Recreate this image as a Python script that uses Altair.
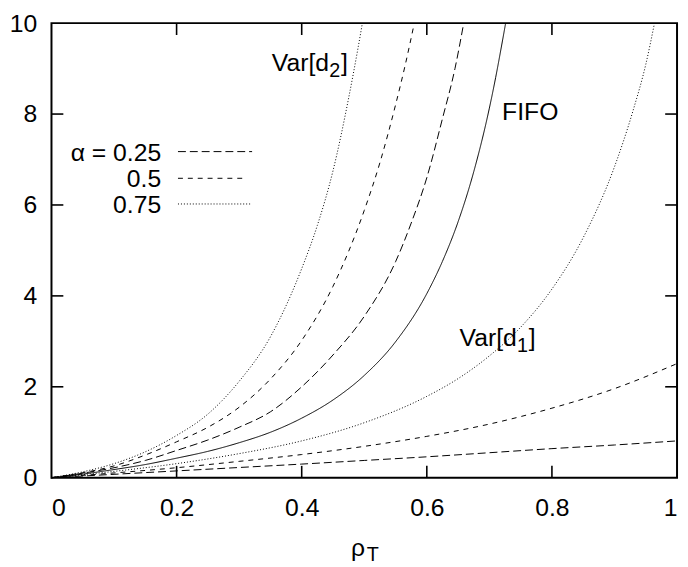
import altair as alt
import pandas as pd

FONT = "Liberation Sans"

# ---- data ----
rho_fifo = [0, 0.05, 0.1, 0.15, 0.2, 0.25, 0.3, 0.35, 0.4, 0.45, 0.5, 0.55, 0.6, 0.625, 0.65, 0.675, 0.7, 0.71, 0.72, 0.726]
v_fifo = [0, 0.08, 0.18, 0.29, 0.43, 0.58, 0.77, 1.00, 1.31, 1.71, 2.25, 2.99, 4.05, 4.76, 5.63, 6.73, 8.13, 8.80, 9.54, 10.0]

rho_d2_075 = [0, 0.05, 0.1, 0.15, 0.2, 0.25, 0.3, 0.35, 0.4, 0.425, 0.45, 0.475, 0.49, 0.497]
v_d2_075 = [0, 0.13, 0.31, 0.57, 0.93, 1.40, 2.12, 3.10, 4.60, 5.55, 6.75, 8.35, 9.45, 10.0]

rho_d2_050 = [0, 0.05, 0.1, 0.15, 0.2, 0.25, 0.3, 0.35, 0.4, 0.45, 0.5, 0.525, 0.55, 0.565, 0.58]
v_d2_050 = [0, 0.11, 0.26, 0.50, 0.79, 1.11, 1.55, 2.17, 3.02, 4.21, 5.88, 6.93, 8.20, 9.05, 10.0]

rho_d2_025 = [0, 0.05, 0.1, 0.15, 0.2, 0.25, 0.3, 0.35, 0.4, 0.45, 0.5, 0.55, 0.575, 0.6, 0.625, 0.645, 0.659]
v_d2_025 = [0, 0.10, 0.22, 0.38, 0.60, 0.83, 1.11, 1.45, 2.00, 2.70, 3.55, 4.75, 5.60, 6.60, 7.90, 9.00, 10.0]

rho_d1_075 = [0, 0.1, 0.2, 0.3, 0.4, 0.5, 0.6, 0.65, 0.7, 0.75, 0.8, 0.85, 0.9, 0.93, 0.95, 0.964]
v_d1_075 = [0, 0.14, 0.31, 0.53, 0.81, 1.21, 1.79, 2.18, 2.68, 3.31, 4.15, 5.28, 6.84, 8.09, 9.09, 10.0]

rho_d1 = [0, 0.1, 0.2, 0.3, 0.4, 0.5, 0.6, 0.7, 0.8, 0.9, 1.0]
v_d1_050 = [0, 0.105, 0.22, 0.36, 0.51, 0.69, 0.91, 1.18, 1.53, 1.96, 2.51]
v_d1_025 = [0, 0.075, 0.15, 0.225, 0.30, 0.38, 0.46, 0.55, 0.64, 0.72, 0.81]

x_ticks = [0, 0.2, 0.4, 0.6, 0.8, 1]
y_ticks = [0, 2, 4, 6, 8, 10]
inner_x_ticks = [0.2, 0.4, 0.6, 0.8]
inner_y_ticks = [2, 4, 6, 8]

series = [
    ("FIFO", "solid", rho_fifo, v_fifo),
    ("d2 0.75", "dot", rho_d2_075, v_d2_075),
    ("d2 0.5", "short", rho_d2_050, v_d2_050),
    ("d2 0.25", "long", rho_d2_025, v_d2_025),
    ("d1 0.75", "dot", rho_d1_075, v_d1_075),
    ("d1 0.5", "short", rho_d1, v_d1_050),
    ("d1 0.25", "long", rho_d1, v_d1_025),
]
rows = []
for name, style, rs, vs in series:
    for r, v in zip(rs, vs):
        rows.append({"series": name, "style": style, "rho": r, "v": v})
df = pd.DataFrame(rows)

W, H = 633, 460
TOP = 12
x_scale = alt.Scale(domain=[0, 1], nice=False, zero=False)
y_scale = alt.Scale(domain=[0, 10], nice=False)
dash_scale = alt.Scale(domain=["solid", "long", "short", "dot"],
                       range=[[1, 0], [8, 4], [5, 5], [1, 2]])

x_axis = alt.Axis(values=x_ticks, format="~g", title="", ticks=False, domain=False,
                  grid=False, labelPadding=18, labelFontSize=25, labelFont=FONT,
                  labelColor="black")
y_axis = alt.Axis(values=y_ticks, format="d", title="", ticks=False, domain=False,
                  grid=False, labelPadding=15, labelFontSize=25, labelFont=FONT,
                  labelColor="black")

lines = alt.Chart(df).mark_line(color="black", strokeWidth=1, interpolate="monotone").encode(
    x=alt.X("rho:Q", scale=x_scale, axis=x_axis),
    y=alt.Y("v:Q", scale=y_scale, axis=y_axis),
    strokeDash=alt.StrokeDash("style:N", scale=dash_scale, legend=None),
    detail="series:N",
)

xt = pd.DataFrame({"t": inner_x_ticks})
yt = pd.DataFrame({"t": inner_y_ticks})
TL = 12
tick_style = dict(color="black", strokeWidth=1.6)
bottom_ticks = alt.Chart(xt).mark_rule(**tick_style).encode(
    x=alt.X("t:Q", scale=x_scale, axis=x_axis), y=alt.value(H), y2=alt.value(H - TL))
top_ticks = alt.Chart(xt).mark_rule(**tick_style).encode(
    x=alt.X("t:Q", scale=x_scale, axis=x_axis), y=alt.value(0), y2=alt.value(TL))
left_ticks = alt.Chart(yt).mark_rule(**tick_style).encode(
    y=alt.Y("t:Q", scale=y_scale, axis=y_axis), x=alt.value(0), x2=alt.value(TL))
right_ticks = alt.Chart(yt).mark_rule(**tick_style).encode(
    y=alt.Y("t:Q", scale=y_scale, axis=y_axis), x=alt.value(W - TL), x2=alt.value(W))

one = alt.Data(values=[{}])
DY = 7 - TOP  # keep page positions of annotations


def txt(s, x, y, size=25, align="left"):
    return alt.Chart(one).mark_text(text=s, align=align, baseline="alphabetic",
                                    fontSize=size, font=FONT, color="black").encode(
        x=alt.value(x), y=alt.value(y + DY))


def legend_line(dash, y, x2):
    return alt.Chart(one).mark_rule(color="black", strokeWidth=1, strokeDash=dash).encode(
        x=alt.value(128), x2=alt.value(x2), y=alt.value(y + DY))


texts = [
    txt("Var[d", 223, 53), txt("2", 281, 60, 20), txt("]", 293, 53),
    txt("FIFO", 456, 103),
    txt("Var[d", 413, 332), txt("1", 471, 338, 20), txt("]", 483, 332),
    txt("α = 0.25", 111, 144, align="right"),
    txt("0.5", 111, 171, align="right"),
    txt("0.75", 111, 197, align="right"),
    txt("ρ", 303, 544), txt("T", 319, 549, 20),
]
legend_lines = [
    legend_line([8, 4], 135, 203),
    legend_line([5, 5], 162, 198),
    legend_line([1, 2], 188, 201),
]

frame = alt.Chart(one).mark_rect(fill=None, stroke="black", strokeWidth=2).encode(
    x=alt.value(0), x2=alt.value(W), y=alt.value(0), y2=alt.value(H))

chart = alt.layer(lines, bottom_ticks, top_ticks, left_ticks, right_ticks,
                  *legend_lines, *texts, frame).properties(
    width=W, height=H,
    autosize=alt.AutoSizeParams(type="none"),
    padding={"left": 44, "top": TOP, "right": 3, "bottom": 85},
).configure_view(stroke=None)

chart.save("out.html", embed_options={"renderer": "svg", "actions": False})
